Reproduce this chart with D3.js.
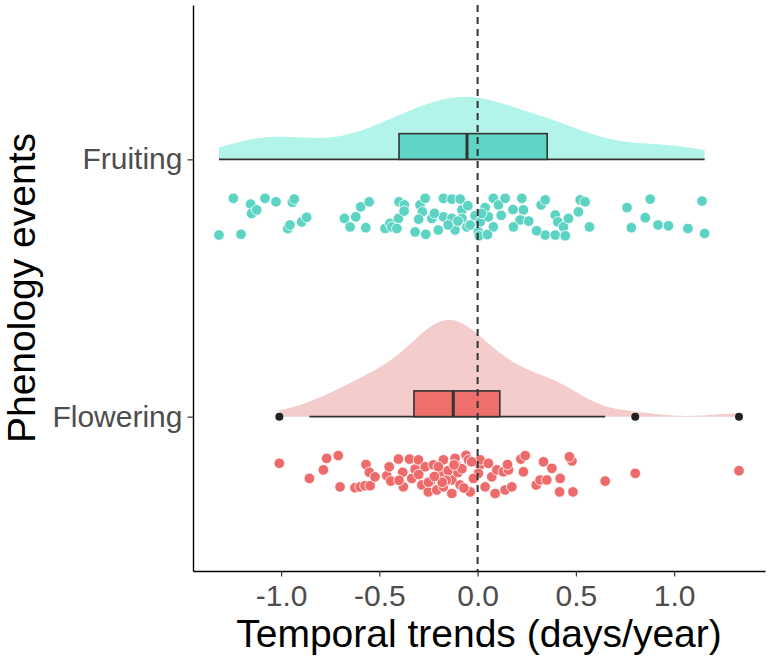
<!DOCTYPE html>
<html>

<head>
  <meta charset="utf-8">
  <title>Raincloud plot with D3.js</title>
  <script src="https://d3js.org/d3.v7.min.js"></script>
  <style>
    body {
      margin: 0;
      background: #fff;
    }

    svg text {
      font-family: "Liberation Sans", Arial, sans-serif;
    }

    .axis .domain {
      stroke: #000;
      stroke-width: 1.4px;
    }

    .axis .tick line {
      stroke: #333;
      stroke-width: 1.2px;
    }

    .axis .tick text {
      fill: #4d4d4d;
      font-size: 30px;
    }

    .title {
      font-size: 39px;
      fill: #000;
    }
  </style>
</head>

<body>
  <svg width="772" height="660"></svg>
  <script>
    // categories on the y axis, bottom first
    const categories = ["Flowering", "Fruiting"];
    const xTicks = [-1.0, -0.5, 0.0, 0.5, 1.0];

    // trend values (days/year)
    const flowering = [
      -1.009, -0.856, -0.785, -0.768, -0.709, -0.700, -0.624, -0.598, -0.573, -0.547,
      -0.568, -0.551, -0.522, -0.462, -0.442, -0.403, -0.381, -0.378, -0.347, -0.335,
      -0.318, -0.301, -0.284, -0.267, -0.251, -0.225, -0.208, -0.174, -0.177, -0.174,
      -0.131, -0.131, -0.115, -0.098, -0.089, -0.059, -0.047, 0.013, 0.013, 0.055,
      -0.038, 0.004, 0.038, 0.072, 0.089, 0.098, 0.131, 0.157, 0.140, 0.174,
      0.152, 0.220, 0.233, 0.242, 0.298, 0.318, 0.352, 0.335, 0.378, 0.420,
      0.417, 0.480, 0.467, 0.485, 0.649, 0.802, 1.330, -0.030, -0.021, -0.15,
      -0.24, -0.30, -0.25, -0.20, -0.16, -0.10, -0.07, -0.08, -0.18, -0.12,
      -0.40, -0.45, -0.22
    ];
    // vertical spread of each dot inside its strip (0 = top, 1 = bottom)
    const floweringJitter = [
      0.21, 0.60, 0.38, 0.08, 0.01, 0.82, 0.84, 0.82, 0.79, 0.79,
      0.24, 0.44, 0.56, 0.53, 0.67, 0.10, 0.44, 0.82, 0.10, 0.60,
      0.36, 0.12, 0.77, 0.30, 0.95, 0.25, 0.90, 0.12, 0.47, 0.82,
      0.64, 0.99, 0.08, 0.30, 0.77, 0.00, 0.12, 0.25, 0.12, 0.21,
      0.95, 0.47, 0.82, 0.56, 0.99, 0.38, 0.43, 0.38, 0.90, 0.82,
      0.24, 0.10, 0.43, 0.01, 0.77, 0.64, 0.64, 0.17, 0.34, 0.60,
      0.95, 0.15, 0.04, 0.95, 0.67, 0.47, 0.40, 0.17, 0.60, 0.40,
      0.68, 0.50, 0.70, 0.30, 0.65, 0.45, 0.85, 0.35, 0.70, 0.25,
      0.65, 0.30, 0.55
    ];

    const fruiting = [
      -1.243, -1.316, -1.204, -1.155, -1.150, -1.124, -1.082, -1.026, -0.943, -0.933,
      -0.966, -0.955, -0.895, -0.870, -0.678, -0.649, -0.620, -0.595, -0.552, -0.569,
      -0.471, -0.446, -0.437, -0.403, -0.400, -0.373, -0.374, -0.411, -0.318, -0.293,
      -0.267, -0.281, -0.264, -0.233, -0.200, -0.174, -0.131, -0.174, -0.131, -0.115,
      -0.089, -0.080, -0.080, -0.055, -0.013, 0.013, 0.038, 0.055, 0.080, 0.106,
      0.140, 0.225, 0.233, 0.216, 0.182, 0.323, 0.344, 0.395, 0.408, 0.437,
      0.462, 0.344, 0.395, 0.446, 0.513, 0.522, 0.547, 0.569, 0.760, 0.878,
      0.853, 0.782, 0.918, 0.971, 1.070, 1.142, 1.155, -0.038, 0.003, 0.008,
      -0.30, -0.22, -0.15, -0.05, 0.02, 0.08, 0.12, 0.18, 0.26, 0.30,
      -0.10, 0.05
    ];
    const fruitingJitter = [
      0.01, 0.96, 0.94, 0.16, 0.40, 0.31, 0.01, 0.10, 0.11, 0.03,
      0.79, 0.70, 0.62, 0.50, 0.53, 0.75, 0.49, 0.23, 0.10, 0.77,
      0.79, 0.66, 0.75, 0.53, 0.10, 0.18, 0.34, 0.79, 0.88, 0.18,
      0.01, 0.36, 0.94, 0.53, 0.83, 0.01, 0.03, 0.49, 0.53, 0.83,
      0.03, 0.31, 0.53, 0.75, 0.46, 0.62, 0.25, 0.49, 0.01, 0.18,
      0.01, 0.01, 0.31, 0.57, 0.75, 0.18, 0.05, 0.44, 0.62, 0.75,
      0.53, 0.96, 0.96, 0.98, 0.36, 0.05, 0.10, 0.75, 0.25, 0.03,
      0.51, 0.77, 0.70, 0.72, 0.79, 0.08, 0.92, 0.70, 0.88, 0.98,
      0.55, 0.40, 0.70, 0.20, 0.40, 0.75, 0.45, 0.30, 0.60, 0.85,
      0.60, 0.95
    ];

    // box statistics (Flowering, Fruiting)
    const q1 = [-0.324, -0.400];
    const medians = [-0.124, -0.054];
    const q3 = [0.113, 0.354];

    const pointColors = ["#ee6b6b", "#5cd3c3"];
    const boxColors = ["#ee6f6c", "#5fd5c6"];
    const cloudColors = ["#f4cccc", "#b3f4ea"];

    const groups = [
      { name: categories[0], values: flowering, jitter: floweringJitter },
      { name: categories[1], values: fruiting, jitter: fruitingJitter }
    ];

    const svg = d3.select("svg");
    const margin = { left: 193, right: 7, top: 5, bottom: 89 };
    const width = +svg.attr("width");
    const height = +svg.attr("height");

    // x domain: data range with 5% padding like ggplot
    const all = flowering.concat(fruiting);
    const [lo, hi] = d3.extent(all);
    const pad = (hi - lo) * 0.05;
    const x = d3.scaleLinear()
      .domain([lo - pad, hi + pad])
      .range([margin.left, width - margin.right]);

    // discrete y positions 1..n, padded by 0.6
    const y = d3.scaleLinear()
      .domain([0.4, categories.length + 0.6])
      .range([height - margin.bottom, margin.top]);

    // kernel density, bw.nrd0 and trimmed to the data range
    function density(values) {
      const s = values.slice().sort(d3.ascending);
      const n = s.length;
      const sd = d3.deviation(s);
      const iqr = d3.quantile(s, 0.75) - d3.quantile(s, 0.25);
      const bw = 0.9 * Math.min(sd, iqr / 1.34) * Math.pow(n, -0.2);
      const pts = [];
      for (let i = 0; i < 512; i++) {
        const t = s[0] + (s[n - 1] - s[0]) * i / 511;
        let sum = 0;
        for (const v of s) {
          const z = (t - v) / bw;
          sum += Math.exp(-0.5 * z * z);
        }
        pts.push({ x: t, d: sum / (n * bw * Math.sqrt(2 * Math.PI)) });
      }
      return pts;
    }

    groups.forEach((g, i) => {
      g.pos = i + 1;
      g.dens = density(g.values);
      const iqr = q3[i] - q1[i];
      const inside = g.values.filter(v => v >= q1[i] - 1.5 * iqr && v <= q3[i] + 1.5 * iqr);
      g.wLow = d3.min(inside);
      g.wHigh = d3.max(inside);
      g.outliers = g.values.filter(v => v < g.wLow || v > g.wHigh);
    });

    // scale="area": every cloud shares the same max
    const maxDens = d3.max(groups, g => d3.max(g.dens, p => p.d));
    const cloudWidth = 0.376;

    const plot = svg.append("g");

    // clouds
    const area = d3.area()
      .x(p => x(p.x));
    groups.forEach((g, i) => {
      area.y0(y(g.pos)).y1(p => y(g.pos + p.d / maxDens * cloudWidth));
      plot.append("path")
        .attr("d", area(g.dens))
        .attr("fill", cloudColors[i]);
    });

    // whiskers + boxes
    const boxH = 0.1;
    groups.forEach((g, i) => {
      plot.append("line")
        .attr("x1", x(g.wLow)).attr("x2", x(g.wHigh))
        .attr("y1", y(g.pos)).attr("y2", y(g.pos))
        .attr("stroke", "#333").attr("stroke-width", 1.6);
      plot.append("rect")
        .attr("x", x(q1[i]))
        .attr("y", y(g.pos + boxH))
        .attr("width", x(q3[i]) - x(q1[i]))
        .attr("height", y(g.pos) - y(g.pos + boxH))
        .attr("fill", boxColors[i])
        .attr("stroke", "#333").attr("stroke-width", 1.6);
      plot.append("line")
        .attr("x1", x(medians[i])).attr("x2", x(medians[i]))
        .attr("y1", y(g.pos)).attr("y2", y(g.pos + boxH))
        .attr("stroke", "#333").attr("stroke-width", 3);
      plot.selectAll(null)
        .data(g.outliers)
        .enter().append("circle")
        .attr("cx", d => x(d))
        .attr("cy", y(g.pos))
        .attr("r", 4)
        .attr("fill", "#222");
    });

    // rain: jittered dots below each cloud
    groups.forEach((g, i) => {
      plot.selectAll(null)
        .data(g.values.map((v, k) => ({ v: v, j: g.jitter[k] })))
        .enter().append("circle")
        .attr("cx", d => x(d.v))
        .attr("cy", d => y(g.pos - 0.15 - d.j * 0.15))
        .attr("r", 5.3)
        .attr("fill", pointColors[i])
        .attr("stroke", "#fff")
        .attr("stroke-width", 0.8);
    });

    // zero line
    plot.append("line")
      .attr("x1", x(0)).attr("x2", x(0))
      .attr("y1", y.range()[1]).attr("y2", y.range()[0])
      .attr("stroke", "#333")
      .attr("stroke-width", 2)
      .attr("stroke-dasharray", "7,5");

    // axes
    svg.append("g")
      .attr("class", "axis")
      .attr("transform", `translate(0,${height - margin.bottom})`)
      .call(d3.axisBottom(x)
        .tickValues(xTicks)
        .tickFormat(d => d.toFixed(1))
        .tickSize(5.5)
        .tickSizeOuter(0)
        .tickPadding(8));

    svg.append("g")
      .attr("class", "axis")
      .attr("transform", `translate(${margin.left},0)`)
      .call(d3.axisLeft(y)
        .tickValues(d3.range(1, categories.length + 1))
        .tickFormat(d => categories[d - 1])
        .tickSize(5.5)
        .tickSizeOuter(0)
        .tickPadding(5));

    svg.append("text")
      .attr("class", "title")
      .attr("x", (x.range()[0] + x.range()[1]) / 2)
      .attr("y", 647)
      .attr("text-anchor", "middle")
      .text("Temporal trends (days/year)");

    svg.append("text")
      .attr("class", "title")
      .attr("transform", `translate(35,${(y.range()[0] + y.range()[1]) / 2}) rotate(-90)`)
      .attr("text-anchor", "middle")
      .text("Phenology events");
  </script>
</body>

</html>
